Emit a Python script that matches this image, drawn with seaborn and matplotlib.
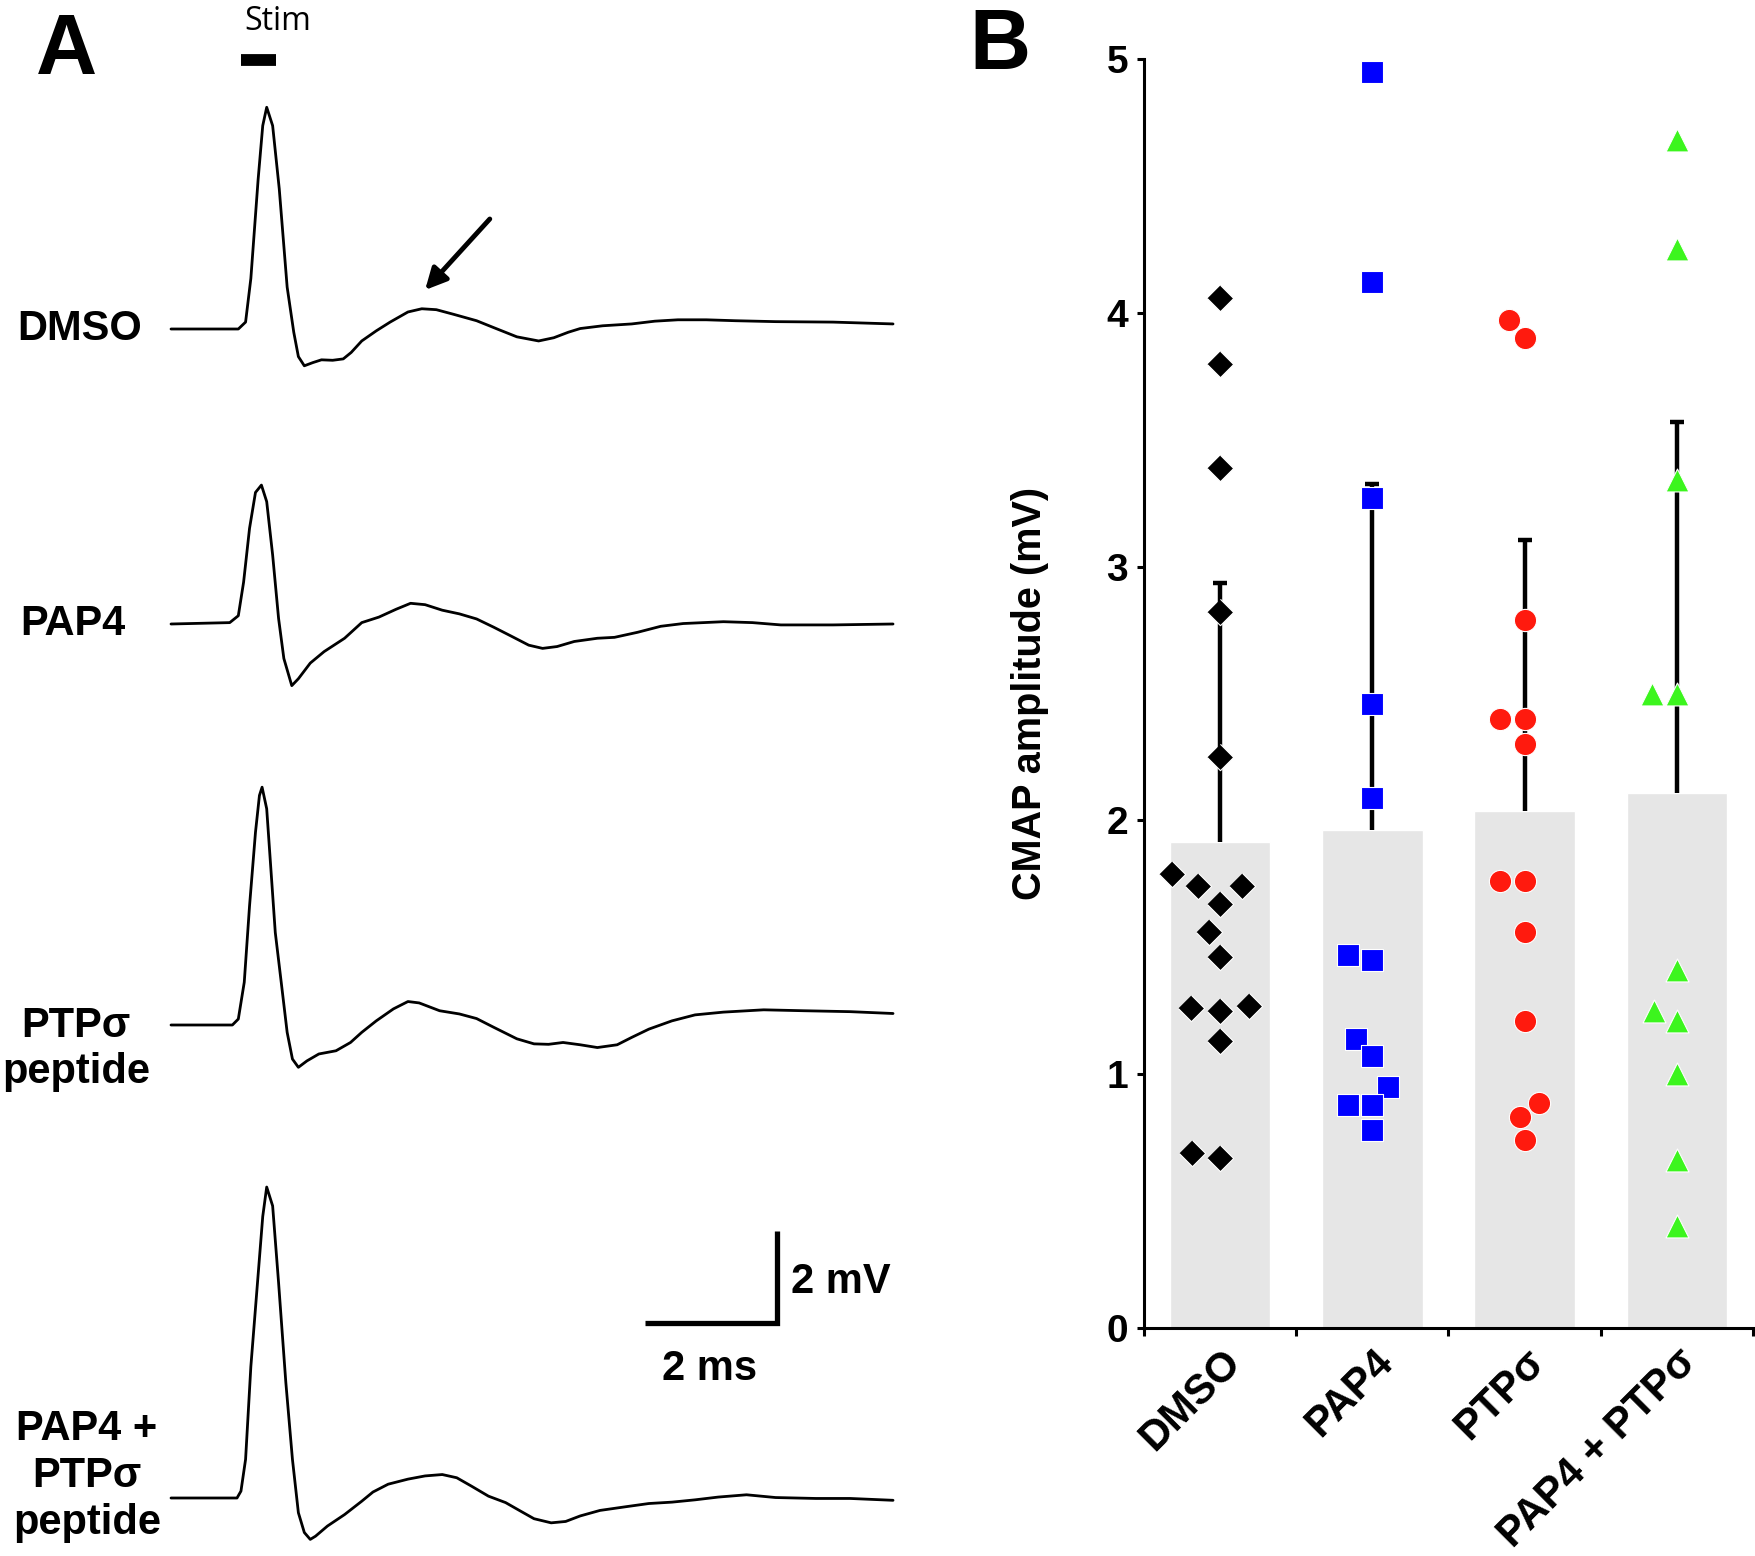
import numpy as np
import pandas as pd
import matplotlib
matplotlib.use('Agg')
import matplotlib.pyplot as plt
import seaborn as sns

# ---- panel B data: CMAP amplitude (mV) per animal ----
GROUPS = ['DMSO', 'PAP4', 'PTPσ', 'PAP4 + PTPσ']
dmso_amp = [4.06, 3.80, 3.39, 2.82, 2.25, 1.79, 1.74, 1.74, 1.67, 1.56, 1.46,
            1.26, 1.27, 1.25, 1.13, 0.69, 0.67]
pap4_amp = [4.95, 4.12, 3.27, 2.46, 2.09, 1.45, 1.47, 1.14, 1.07, 0.95, 0.88,
            0.88, 0.78]
ptp_amp = [3.97, 3.90, 2.79, 2.40, 2.40, 2.30, 1.76, 1.76, 1.56, 1.21, 0.885,
           0.83, 0.74]
combo_amp = [4.68, 4.25, 3.34, 2.50, 2.50, 1.41, 1.25, 1.21, 1.00, 0.66, 0.40]

# ---- panel A data: example CMAP traces (time ms, voltage mV) ----
t_dmso = [0.00, 1.02, 1.13, 1.21, 1.32, 1.39, 1.45, 1.54, 1.64, 1.76, 1.86, 1.93,
          2.02, 2.15, 2.28, 2.45, 2.61, 2.73, 2.89, 3.11, 3.32, 3.59, 3.80, 4.02,
          4.28, 4.63, 4.89, 5.24, 5.57, 5.80, 6.02, 6.20, 6.54, 6.98, 7.33, 7.68,
          8.11, 8.55, 9.16, 10.03, 10.94]
v_dmso = [0, 0, 0.15, 1.10, 3.25, 4.42, 4.82, 4.42, 3.05, 0.91, -0.07, -0.60,
          -0.80, -0.73, -0.67, -0.68, -0.65, -0.51, -0.26, -0.04, 0.15, 0.37, 0.44,
          0.42, 0.32, 0.18, 0.03, -0.17, -0.26, -0.19, -0.07, 0.01, 0.07, 0.11,
          0.17, 0.20, 0.20, 0.18, 0.16, 0.15, 0.11]

t_pap4 = [0, 0.89, 1.02, 1.10, 1.19, 1.28, 1.37, 1.45, 1.54, 1.63, 1.71, 1.83,
          1.93, 2.11, 2.32, 2.63, 2.89, 3.15, 3.41, 3.63, 3.85, 4.11, 4.37, 4.63,
          4.89, 5.15, 5.42, 5.63, 5.85, 6.11, 6.46, 6.72, 7.07, 7.42, 7.76, 8.37,
          8.81, 9.24, 10.03, 10.94]
v_pap4 = [0, 0.03, 0.18, 0.91, 2.08, 2.86, 3.02, 2.66, 1.50, 0.12, -0.75, -1.34,
          -1.19, -0.85, -0.60, -0.31, 0.03, 0.15, 0.32, 0.45, 0.42, 0.30, 0.22,
          0.11, -0.07, -0.26, -0.46, -0.53, -0.49, -0.38, -0.31, -0.29, -0.18,
          -0.05, 0.01, 0.05, 0.03, -0.02, -0.02, 0]

t_ptp = [0, 0.93, 1.02, 1.11, 1.19, 1.28, 1.34, 1.38, 1.45, 1.51, 1.58, 1.67,
         1.76, 1.84, 1.93, 2.06, 2.24, 2.50, 2.72, 2.89, 3.11, 3.37, 3.59, 3.76,
         4.07, 4.37, 4.63, 4.89, 5.24, 5.50, 5.72, 5.94, 6.20, 6.46, 6.76, 6.98,
         7.24, 7.59, 7.94, 8.37, 8.98, 9.59, 10.29, 10.94]
v_ptp = [0, 0, 0.13, 0.93, 2.59, 4.19, 4.99, 5.17, 4.70, 3.46, 2.01, 0.93, -0.16,
         -0.74, -0.92, -0.78, -0.63, -0.56, -0.38, -0.16, 0.09, 0.35, 0.51, 0.48,
         0.31, 0.24, 0.14, -0.05, -0.30, -0.41, -0.42, -0.38, -0.43, -0.49, -0.43,
         -0.27, -0.09, 0.09, 0.22, 0.28, 0.33, 0.31, 0.29, 0.25]

t_combo = [0, 1.00, 1.06, 1.13, 1.21, 1.31, 1.39, 1.45, 1.54, 1.63, 1.74, 1.84,
           1.93, 2.02, 2.11, 2.19, 2.37, 2.63, 2.89, 3.06, 3.29, 3.59, 3.85, 4.11,
           4.33, 4.55, 4.81, 5.07, 5.29, 5.50, 5.76, 5.98, 6.20, 6.50, 6.89, 7.24,
           7.59, 7.94, 8.29, 8.72, 9.16, 9.77, 10.29, 10.94]
v_combo = [0, 0, 0.15, 0.84, 2.86, 4.67, 6.12, 6.76, 6.35, 4.68, 2.51, 0.84,
           -0.32, -0.75, -0.90, -0.83, -0.61, -0.36, -0.07, 0.13, 0.30, 0.41, 0.48,
           0.51, 0.44, 0.26, 0.04, -0.10, -0.28, -0.45, -0.54, -0.51, -0.39, -0.27,
           -0.19, -0.12, -0.09, -0.04, 0.02, 0.07, 0.01, -0.01, -0.01, -0.05]

STIM_MS = [1.06, 1.59]
SCALE_MS = 2
SCALE_MV = 2

# ---- layout (figure pixels, 1756 x 1556) ----
W, H = 1756, 1556
PX_PER_MS, PX_PER_MV = 66.0, 46.0
T0_PX = 171
trace_baselines = {'DMSO': 329, 'PAP4': 624, 'PTP': 1025, 'COMBO': 1498}


def fx(x):
    return x / W


def fy(y):
    return 1 - y / H


def base_mv(y):
    return (H - y) / PX_PER_MV


sns.set_style('ticks')
plt.rcParams['font.family'] = ['Liberation Sans', 'DejaVu Sans']
plt.rcParams.update({'text.color': 'black', 'axes.labelcolor': 'black',
                     'xtick.color': 'black', 'ytick.color': 'black',
                     'axes.edgecolor': 'black'})

fig = plt.figure(figsize=(W / 100, H / 100), dpi=100)

# ================= panel A =================
ax_a = fig.add_axes([0, 0, 1, 1])
ax_a.set_xlim(-T0_PX / PX_PER_MS, (W - T0_PX) / PX_PER_MS)
ax_a.set_ylim(0, H / PX_PER_MV)
ax_a.axis('off')

traces = [(t_dmso, v_dmso, 'DMSO'), (t_pap4, v_pap4, 'PAP4'),
          (t_ptp, v_ptp, 'PTP'), (t_combo, v_combo, 'COMBO')]
for t, v, key in traces:
    sns.lineplot(x=t, y=np.array(v) + base_mv(trace_baselines[key]), ax=ax_a,
                 color='black', lw=2.0, sort=False, estimator=None)

# stimulus bar
ax_a.plot(STIM_MS, [base_mv(60)] * 2, color='black', lw=8.5, solid_capstyle='butt')
fig.text(fx(278), fy(30), 'Stim', ha='center', va='baseline', fontsize=23,
         family=['Open Sans', 'DejaVu Sans'])

# arrow on the DMSO late component
ax_a.annotate('', xy=(3.85, base_mv(290)), xytext=(4.83, base_mv(219)),
              arrowprops=dict(arrowstyle='-|>', lw=3.5, color='black',
                              mutation_scale=32, shrinkA=0, shrinkB=0))

# scale bars
sx, sy = (777 - T0_PX) / PX_PER_MS, base_mv(1323)
ax_a.plot([sx - SCALE_MS, sx, sx], [sy, sy, sy + SCALE_MV], color='black',
          lw=3.8, solid_joinstyle='miter', solid_capstyle='butt')
fig.text(fx(791), fy(1293), f'{SCALE_MV} mV', ha='left', va='baseline',
         fontsize=30, fontweight='bold')
fig.text(fx(710), fy(1380), f'{SCALE_MS} ms', ha='center', va='baseline',
         fontsize=30, fontweight='bold')

# trace labels
lab_kw = dict(fontsize=30, fontweight='bold')
fig.text(fx(17), fy(329), 'DMSO', ha='left', va='center', **lab_kw)
fig.text(fx(20), fy(624), 'PAP4', ha='left', va='center', **lab_kw)
fig.text(fx(76), fy(1049), 'PTPσ\npeptide', ha='center', va='center',
         ma='center', linespacing=1.2, **lab_kw)
fig.text(fx(87), fy(1476), 'PAP4 +\nPTPσ\npeptide', ha='center', va='center',
         ma='center', linespacing=1.22, **lab_kw)

fig.text(fx(36), fy(74), 'A', ha='left', va='baseline', fontsize=61,
         fontweight='bold')
fig.text(fx(969), fy(69), 'B', ha='left', va='baseline', fontsize=61,
         fontweight='bold')

# ================= panel B =================
df = pd.DataFrame({
    'group': (['DMSO'] * len(dmso_amp) + ['PAP4'] * len(pap4_amp)
              + ['PTPσ'] * len(ptp_amp) + ['PAP4 + PTPσ'] * len(combo_amp)),
    'amp': dmso_amp + pap4_amp + ptp_amp + combo_amp,
})

ax_b = fig.add_axes([fx(1144), 1 - 1328 / H, (1753 - 1144) / W, (1328 - 59) / H])
sns.barplot(data=df, x='group', y='amp', order=GROUPS, errorbar=None,
            color='#e6e6e6', saturation=1, width=0.66, ax=ax_b)

stats = df.groupby('group')['amp'].agg(['mean', 'std']).reindex(GROUPS)
eb = ax_b.errorbar(np.arange(len(GROUPS)), stats['mean'],
                   yerr=[np.zeros(len(GROUPS)), stats['std']], fmt='none',
                   ecolor='black', elinewidth=3.2, capsize=4.7, capthick=3.2,
                   zorder=2)
eb[1][0].set_visible(False)

diamond = [(0, 1), (1, 0), (0, -1), (-1, 0)]
point_styles = [
    ('DMSO', dmso_amp, diamond, 'black', 19.0),
    ('PAP4', pap4_amp, 's', '#0000ff', 16.0),
    ('PTPσ', ptp_amp, 'o', '#ff1a0e', 16.0),
    ('PAP4 + PTPσ', combo_amp, '^', '#3cf51e', 16.5),
]
for name, vals, mk, col, sz in point_styles:
    sns.swarmplot(x=[name] * len(vals), y=vals, order=GROUPS, marker=mk,
                  color=col, size=sz, edgecolor='white', linewidth=0.8,
                  zorder=3, ax=ax_b)

ax_b.set_xlim(-0.5, 3.5)
ax_b.set_ylim(0, 5)
ax_b.set_yticks(range(6))
ax_b.set_xticks(range(len(GROUPS)))
ax_b.set_xticklabels(GROUPS, rotation=45, ha='right', rotation_mode='anchor',
                     fontsize=30, fontweight='bold')
ax_b.set_xticks(np.arange(-0.5, 4, 1), minor=True)
ax_b.tick_params(axis='x', which='major', length=0, pad=10)
ax_b.tick_params(axis='x', which='minor', length=5.5, width=2.2, color='black')
ax_b.tick_params(axis='y', length=5.4, width=2.2, color='black', pad=6,
                 labelsize=28)
for lab in ax_b.get_yticklabels():
    lab.set_fontweight('bold')
ax_b.set_xlabel('')
ax_b.set_ylabel('CMAP amplitude (mV)', fontsize=28.5, fontweight='bold',
                va='center')
ax_b.yaxis.set_label_coords(-0.187, 0.5)
sns.despine(ax=ax_b)
for side in ('left', 'bottom'):
    ax_b.spines[side].set_linewidth(2.2)
    ax_b.spines[side].set_color('black')
ax_b.patch.set_alpha(0)

fig.savefig('out.png', dpi=100)
